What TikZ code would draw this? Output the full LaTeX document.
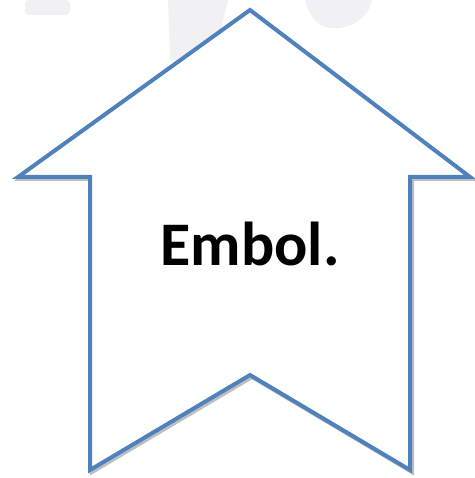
\documentclass[tikz,border=0pt]{standalone}
\usepackage{fontspec}
\setmainfont{Carlito}
\usepackage{tikz}
\usetikzlibrary{positioning}
\definecolor{ArrowBlue}{HTML}{4F81BD}
\definecolor{MarkGray}{HTML}{F1F1F3}

\begin{document}
\begin{tikzpicture}[
        x=1pt, y=-1pt,
        every node/.style={align=center},
        outline/.style={draw=ArrowBlue, line width=4pt, line join=miter, fill=white},
        label/.style={font=\fontsize{62}{70}\selectfont\bfseries}
    ]
        \useasboundingbox (0,0) rectangle (474,478);
        % faint watermark pieces
        \fill[MarkGray, rounded corners=4pt] (25,0) rectangle (70,15);
        \fill[MarkGray] (168,0) -- (228,0) -- (214,60) -- (170,60) -- cycle;
        \fill[MarkGray] (305,0) -- (372,0) .. controls (368,22) and (345,30) .. (330,28) .. controls (315,26) and (308,12) .. (305,0) -- cycle;
        % shadow
        \draw[black!25, line width=4pt, line join=miter, xshift=2pt, yshift=-2pt]
            (250,10) -- (470,177) -- (410,177) -- (410,470) -- (250,375) -- (90,470) -- (90,177) -- (18,177) -- cycle;
        \draw[outline]
            (250,10) -- (470,177) -- (410,177) -- (410,470) -- (250,375) -- (90,470) -- (90,177) -- (18,177) -- cycle;
        \node[label] (embol) at (250,244) {Embol.};
    \end{tikzpicture}
\end{document}
